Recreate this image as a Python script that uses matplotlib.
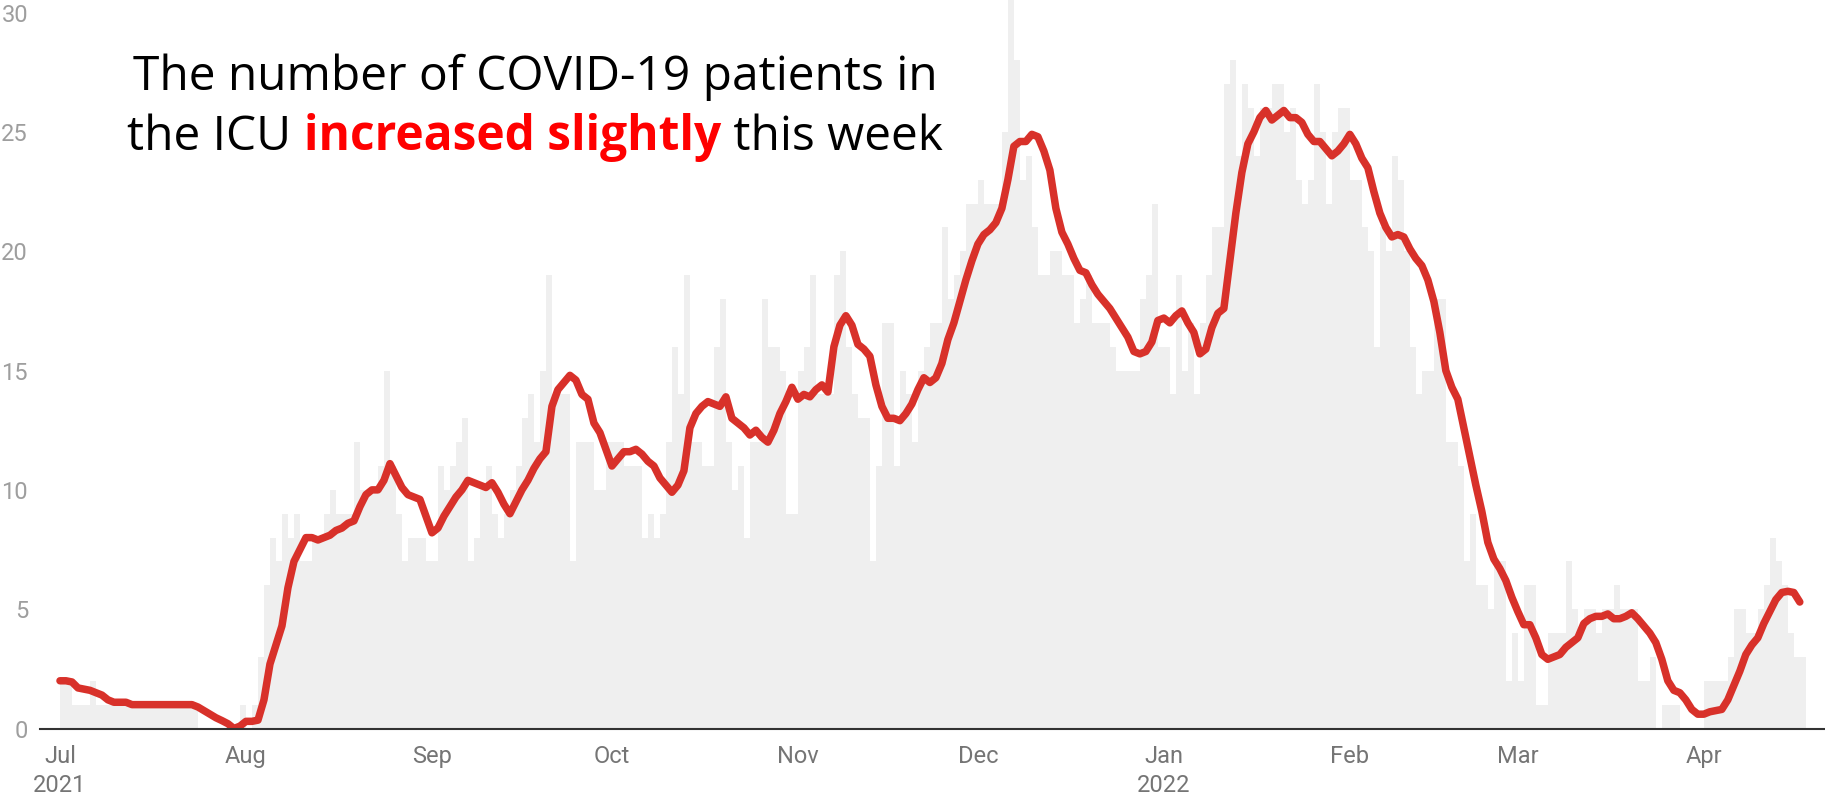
import matplotlib
matplotlib.use('Agg')
import matplotlib.pyplot as plt
import pandas as pd

# ---------------- data ----------------
start_date = '2021-07-01'

# daily ICU patients (bars), Jul 1 2021 ... Apr 17 2022
icu_jul = [2, 2, 1, 1, 1, 2, 1, 1, 1, 1, 1, 1, 1, 1, 1, 1, 1, 1, 1, 1, 1, 1, 1, 0, 0, 0, 0, 0, 0, 0, 1]
icu_aug = [0, 1, 3, 6, 8, 7, 9, 8, 9, 7, 7, 8, 8, 9, 10, 9, 9, 9, 12, 10, 10, 10, 11, 15, 11, 9, 7, 8, 8, 8, 7]
icu_sep = [7, 11, 10, 11, 12, 13, 7, 8, 10, 11, 9, 8, 9, 10, 11, 13, 14, 12, 15, 19, 14, 14, 14, 7, 12, 12, 12, 10, 10, 12]
icu_oct = [12, 12, 11, 11, 11, 8, 9, 8, 9, 12, 16, 14, 19, 12, 12, 11, 11, 16, 18, 12, 10, 11, 8, 12, 12, 18, 16, 16, 15, 9, 9]
icu_nov = [15, 16, 19, 14, 14, 14, 19, 20, 16, 14, 13, 13, 7, 11, 17, 17, 11, 15, 14, 12, 15, 16, 17, 17, 21, 18, 19, 20, 22, 22]
icu_dec = [23, 22, 22, 22, 25, 31, 28, 23, 24, 21, 19, 19, 20, 20, 19, 19, 17, 18, 19, 17, 17, 17, 16, 15, 15, 15, 15, 18, 19, 22, 16]
icu_jan = [16, 14, 19, 15, 17, 14, 17, 19, 21, 21, 27, 28, 24, 27, 26, 24, 26, 26, 27, 27, 25, 26, 23, 22, 23, 27, 25, 22, 25, 26, 26]
icu_feb = [23, 23, 21, 20, 16, 21, 20, 24, 23, 20, 16, 14, 15, 15, 18, 18, 12, 12, 11, 7, 9, 6, 6, 5, 7, 7, 2, 4]
icu_mar = [2, 6, 6, 1, 1, 4, 4, 4, 7, 5, 4, 5, 5, 4, 5, 5, 6, 5, 5, 5, 2, 2, 3, 0, 1, 1, 1, 0, 0, 0, 0]
icu_apr = [2, 2, 2, 2, 3, 5, 5, 4, 4, 5, 6, 8, 7, 6, 4, 3, 3]

# 7-day average (red line), same days
avg_jul = [2.0, 2.0, 1.95, 1.7, 1.65, 1.6, 1.5, 1.4, 1.2, 1.1, 1.1, 1.1,
           1.0, 1.0, 1.0, 1.0, 1.0, 1.0, 1.0, 1.0, 1.0, 1.0, 1.0,
           0.9, 0.75, 0.6, 0.45, 0.33, 0.2, 0.0, 0.1]
avg_aug = [0.3, 0.3, 0.35,
           1.2, 2.7, 3.5, 4.3, 5.9, 7.0, 7.5, 8.0, 8.0, 7.9, 8.0, 8.1, 8.3, 8.4, 8.6,
           8.7, 9.3, 9.8, 10.0, 10.0, 10.4, 11.1, 10.6, 10.1, 9.8, 9.7, 9.6, 8.9]
avg_sep = [8.2, 8.4, 8.9, 9.3, 9.7, 10.0, 10.4, 10.3, 10.2, 10.1, 10.3, 9.9, 9.4, 9.0, 9.5,
           10.0, 10.4, 10.9, 11.3, 11.6, 13.5, 14.2, 14.5, 14.8, 14.6, 14.0, 13.8, 12.8, 12.4, 11.7]
avg_oct = [11.0, 11.3, 11.6, 11.6, 11.7, 11.5, 11.2, 11.0, 10.5, 10.2, 9.9, 10.2, 10.8, 12.6, 13.2,
           13.5, 13.7, 13.6, 13.5, 13.9, 13.0, 12.8, 12.6, 12.3, 12.5, 12.2, 12.0, 12.5, 13.2, 13.7, 14.3]
avg_nov = [13.8, 14.0, 13.9, 14.2, 14.4, 14.1, 16.0, 16.9, 17.3, 16.9, 16.1, 15.9, 15.6, 14.4, 13.5,
           13.0, 13.0, 12.9, 13.2, 13.6, 14.2, 14.7, 14.5, 14.7, 15.3, 16.3, 17.0, 17.9, 18.8, 19.6]
avg_dec = [20.3, 20.7, 20.9, 21.2, 21.8, 23.0, 24.4, 24.6, 24.6, 24.9, 24.8, 24.2, 23.4, 21.8, 20.8,
           20.3, 19.7, 19.2, 19.1, 18.6, 18.2, 17.9, 17.6, 17.2, 16.8, 16.4, 15.8, 15.7, 15.8, 16.2, 17.1]
avg_jan = [17.2, 17.0, 17.3, 17.5, 17.0, 16.6, 15.7, 15.9, 16.8, 17.4, 17.6, 19.6, 21.6, 23.3, 24.5,
           25.0, 25.6, 25.9, 25.5, 25.7, 25.9, 25.6, 25.6, 25.4, 24.9, 24.6, 24.6, 24.3, 24.0, 24.2, 24.5]
avg_feb = [24.9, 24.5, 23.9, 23.5, 22.5, 21.6, 21.0, 20.6, 20.7, 20.6, 20.1, 19.7, 19.4, 18.8,
           17.9, 16.6, 15.0, 14.3, 13.8, 12.6, 11.4, 10.2, 9.1, 7.8, 7.1, 6.7, 6.2, 5.5]
avg_mar = [4.9, 4.35, 4.35, 3.8, 3.1, 2.9, 3.0, 3.1, 3.4, 3.6, 3.8, 4.4, 4.6, 4.7, 4.7, 4.8,
           4.6, 4.6, 4.7, 4.85, 4.6, 4.3, 4.0, 3.6, 2.9, 2.0, 1.6, 1.5, 1.2, 0.8, 0.6]
avg_apr = [0.6, 0.7, 0.75, 0.8, 1.2, 1.8, 2.4, 3.1, 3.5, 3.8, 4.4, 4.9, 5.4, 5.7, 5.75, 5.7, 5.3]

icu_daily = icu_jul + icu_aug + icu_sep + icu_oct + icu_nov + icu_dec + icu_jan + icu_feb + icu_mar + icu_apr
icu_7day_avg = avg_jul + avg_aug + avg_sep + avg_oct + avg_nov + avg_dec + avg_jan + avg_feb + avg_mar + avg_apr

month_ticks = ['2021-07-01', '2021-08-01', '2021-09-01', '2021-10-01', '2021-11-01',
               '2021-12-01', '2022-01-01', '2022-02-01', '2022-03-01', '2022-04-01']
month_labels = ['Jul\n2021', 'Aug', 'Sep', 'Oct', 'Nov', 'Dec', 'Jan\n2022', 'Feb', 'Mar', 'Apr']
y_ticks = [0, 5, 10, 15, 20, 25, 30]

title_line1 = 'The number of COVID-19 patients in'
title_line2 = ['the ICU ', 'increased slightly', ' this week']

# ---------------- figure ----------------
W, H = 1825, 797
fig = plt.figure(figsize=(W / 100, H / 100), dpi=100)
ax_left, ax_bottom_px, ax_top_px = 40, 728.5, 0
ax = fig.add_axes([ax_left / W, (H - ax_bottom_px) / H, (W - ax_left) / W, (ax_bottom_px - ax_top_px) / H])

dates = pd.date_range(start_date, periods=len(icu_daily), freq='D')
ax.bar(dates, icu_daily, width=1.0, align='edge', color='#efefef', linewidth=0, zorder=1)
ax.plot(dates, icu_7day_avg, color='#d8312a', lw=5.4,
        solid_capstyle='round', solid_joinstyle='round', zorder=3)

x0 = pd.Timestamp(start_date)
ax.set_xlim(x0 - pd.Timedelta(days=3.33), x0 + pd.Timedelta(days=294.2))
ax.set_ylim(0, 30.53)

ax.set_xticks(pd.to_datetime(month_ticks))
ax.set_xticklabels(month_labels, fontfamily='Roboto', fontsize=17, color='#757575', linespacing=1.3)
ax.set_yticks(y_ticks)
ax.set_yticklabels([str(v) for v in y_ticks], fontfamily='Roboto', fontsize=17, color='#9e9e9e')
ax.tick_params(axis='x', length=0, pad=12)
ax.tick_params(axis='y', length=0, pad=8.6)

for s in ['top', 'right', 'left']:
    ax.spines[s].set_visible(False)
ax.spines['bottom'].set_color('#333333')
ax.spines['bottom'].set_linewidth(1.5)
ax.spines['bottom'].set_zorder(4)
ax.set_facecolor('none')

# ---------------- title ----------------
cx = 535 / W
y1 = 1 - 90 / H
y2 = 1 - 150 / H
tfs = 34.5
title_font = 'Open Sans'
fig.text(cx, y1, title_line1, ha='center', va='baseline', fontsize=tfs,
         fontfamily=title_font, fontweight='normal', color='black')

parts = []
styles = [dict(color='black', fontweight='normal'),
          dict(color='#ff0000', fontweight='bold'),
          dict(color='black', fontweight='normal')]
for txt, st in zip(title_line2, styles):
    parts.append(fig.text(0, y2, txt, ha='left', va='baseline', fontsize=tfs,
                          fontfamily=title_font, **st))
renderer = fig.canvas.get_renderer()
widths = [p.get_window_extent(renderer).width for p in parts]
total = sum(widths)
xpos = cx * W - total / 2
for p, w in zip(parts, widths):
    p.set_x(xpos / W)
    xpos += w

fig.savefig('out.png', dpi=100)
